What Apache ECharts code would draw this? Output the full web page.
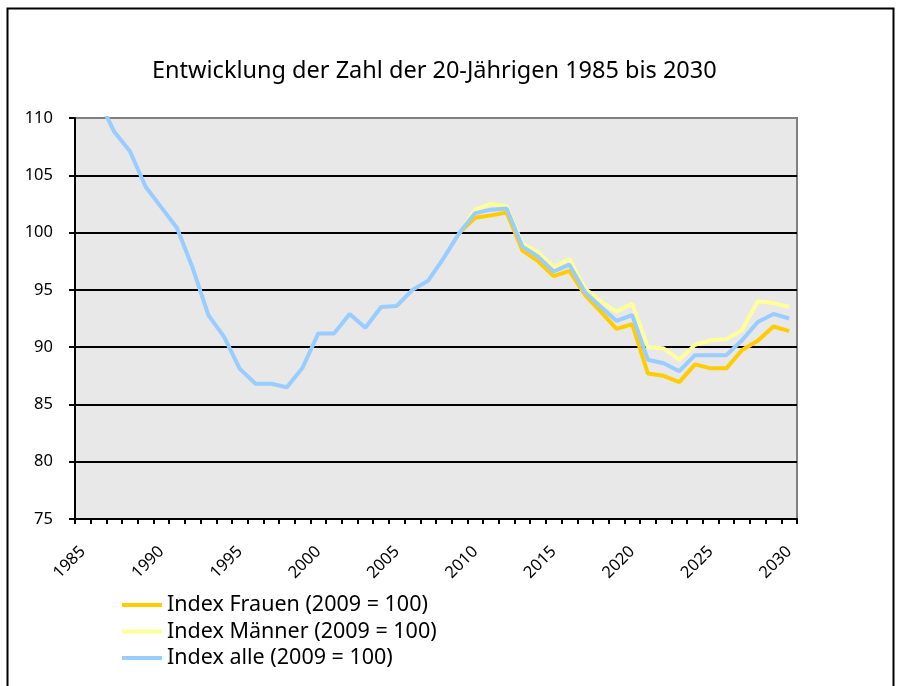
<!DOCTYPE html>
<html>
<head>
<meta charset="utf-8">
<title>Entwicklung der Zahl der 20-Jährigen</title>
<script src="https://cdn.jsdelivr.net/npm/echarts@6/dist/echarts.min.js"></script>
<style>
  html, body { margin: 0; padding: 0; background: #fff; }
  #chart { width: 905px; height: 686px; }
</style>
</head>
<body>
<div id="chart"></div>
<script>
  // Jahre 1985 bis 2030
  var years = ['1985', '1986', '1987', '1988', '1989', '1990', '1991', '1992', '1993', '1994',
    '1995', '1996', '1997', '1998', '1999', '2000', '2001', '2002', '2003', '2004',
    '2005', '2006', '2007', '2008', '2009', '2010', '2011', '2012', '2013', '2014',
    '2015', '2016', '2017', '2018', '2019', '2020', '2021', '2022', '2023', '2024',
    '2025', '2026', '2027', '2028', '2029', '2030']

  // Index Frauen / Männer erst ab 2009
  var indexFrauen = [null, null, null, null, null, null, null, null, null, null,
    null, null, null, null, null, null, null, null, null, null,
    null, null, null, null, 100.0, 101.3, 101.5, 101.75, 98.45, 97.5,
    96.2, 96.65, 94.55, 93.1, 91.6, 92.0, 87.7, 87.5, 86.95, 88.5,
    88.15, 88.15, 89.75, 90.55, 91.8, 91.4]

  var indexMaenner = [null, null, null, null, null, null, null, null, null, null,
    null, null, null, null, null, null, null, null, null, null,
    null, null, null, null, 100.0, 102.0, 102.5, 102.3, 99.0, 98.3,
    97.0, 97.7, 95.1, 94.0, 93.1, 93.8, 90.0, 89.9, 88.9, 90.2,
    90.6, 90.7, 91.5, 94.0, 93.85, 93.5]

  var indexAlle = [113.0, 111.6, 108.8, 107.1, 104.0, 102.2, 100.4, 96.9, 92.8, 90.9,
    88.1, 86.8, 86.8, 86.5, 88.2, 91.2, 91.2, 92.9, 91.7, 93.5,
    93.6, 95.0, 95.8, 97.8, 100.0, 101.7, 102.0, 102.1, 98.8, 97.9,
    96.6, 97.2, 94.8, 93.5, 92.3, 92.8, 88.9, 88.6, 87.9, 89.3,
    89.3, 89.3, 90.6, 92.2, 92.9, 92.5]

  var seriesNames = ['Index Frauen (2009 = 100)', 'Index Männer (2009 = 100)', 'Index alle (2009 = 100)']
  var colors = ['#FFCC00', '#FFFF99', '#99CCFF']

  var font = '"Noto Sans", sans-serif'
  var chart = echarts.init(document.getElementById('chart'), null, { renderer: 'canvas' })

  function lineSeries (name, data) {
    return {
      name: name,
      type: 'line',
      data: data,
      showSymbol: false,
      symbol: 'none',
      connectNulls: false,
      clip: true,
      animation: false,
      lineStyle: { width: 4 }
    }
  }

  chart.setOption({
    animation: false,
    color: colors,
    textStyle: { fontFamily: font, color: '#000' },
    title: {
      text: 'Entwicklung der Zahl der 20-Jährigen 1985 bis 2030',
      left: 147,
      top: 54,
      textStyle: { fontFamily: font, fontSize: 23.5, fontWeight: 'normal', color: '#000' }
    },
    legend: {
      orient: 'vertical',
      left: 122,
      top: 592,
      padding: 0,
      icon: 'rect',
      itemWidth: 40,
      itemHeight: 4,
      itemGap: 0.5,
      data: seriesNames,
      textStyle: { fontFamily: font, fontSize: 21.5, color: '#000', lineHeight: 26 }
    },
    grid: {
      left: 75,
      right: 108,
      top: 118,
      bottom: 167,
      show: true,
      backgroundColor: '#E8E8E8',
      borderColor: '#808080',
      borderWidth: 2
    },
    xAxis: {
      type: 'category',
      data: years,
      boundaryGap: true,
      axisLine: { lineStyle: { color: '#000', width: 2 } },
      axisTick: { show: true, interval: 0, length: 5, lineStyle: { color: '#000', width: 2 } },
      axisLabel: { interval: 4, rotate: 45, margin: 30, fontSize: 16.5, color: '#000', fontFamily: font },
      splitLine: { show: false }
    },
    yAxis: {
      type: 'value',
      min: 75,
      max: 110,
      interval: 5,
      axisLine: { show: true, lineStyle: { color: '#000', width: 2 } },
      axisTick: { show: true, length: 6, lineStyle: { color: '#000', width: 2 } },
      axisLabel: { margin: 22, fontSize: 16.5, color: '#000', fontFamily: font },
      splitLine: { show: true, showMaxLine: false, showMinLine: false, lineStyle: { color: '#000', width: 2 } }
    },
    graphic: [{
      type: 'rect',
      left: 5,
      top: 6,
      shape: { width: 886, height: 700 },
      style: { fill: 'none', stroke: '#000', lineWidth: 2 },
      silent: true
    }],
    series: [
      lineSeries(seriesNames[0], indexFrauen),
      lineSeries(seriesNames[1], indexMaenner),
      lineSeries(seriesNames[2], indexAlle)
    ]
  })
</script>
</body>
</html>
